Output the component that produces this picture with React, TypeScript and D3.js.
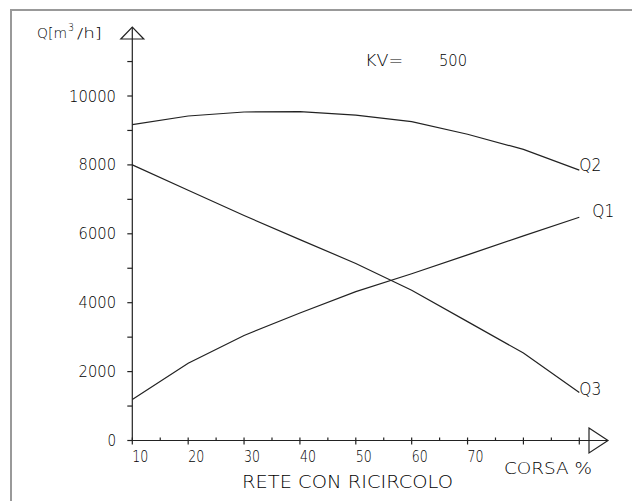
import React from 'react';
import * as d3 from 'd3';

// corsa % (x) and portate Q [m3/h]
const corsa = [10, 20, 30, 40, 50, 60, 70, 80, 90];
const q1 = [1190, 2240, 3050, 3700, 4320, 4840, 5390, 5940, 6480];
const q2 = [9170, 9420, 9535, 9545, 9445, 9255, 8890, 8450, 7850];
const q3 = [8000, 7265, 6530, 5830, 5140, 4360, 3450, 2540, 1390];
const seriesNames = ['Q1', 'Q2', 'Q3'];

const yTickLabels = [0, 2000, 4000, 6000, 8000, 10000];
const yMinorTicks = [1000, 3000, 5000, 7000, 9000, 11000];
const xTickLabels = [10, 20, 30, 40, 50, 60, 70];
const xMajorTicks = [10, 20, 30, 40, 50, 60, 70, 80, 90];
const xMinorTicks = [15, 25, 35, 45, 55, 65, 75, 85];

const kvLabel = 'KV=';
const kvValue = '500';
const xTitle = 'RETE CON RICIRCOLO';
const xUnit = 'CORSA %';

const font = '"DejaVu Sans", "Liberation Sans", sans-serif';
const ink = '#222';
const textInk = '#000';

export default function App() {
    const width = 632;
    const height = 501;

    const xScale = d3.scaleLinear().domain([10, 90]).range([132.3, 579.3]);
    const yScale = d3.scaleLinear().domain([0, 10000]).range([440.5, 96]);

    const x0 = xScale(10);
    const y0 = yScale(0);

    const line = d3.line<[number, number]>()
        .x(d => xScale(d[0]))
        .y(d => yScale(d[1]));

    const series = [q1, q2, q3].map((vals, i) => ({
        name: seriesNames[i],
        points: corsa.map((c, j) => [c, vals[j]] as [number, number]),
    }));

    // label positions relative to last point of each series
    const labelOffset: Record<string, [number, number]> = {
        Q1: [13, 0],
        Q2: [0, 1],
        Q3: [0, 2],
    };

    const fit = { lengthAdjust: 'spacingAndGlyphs' as const, fontWeight: 200, fill: textInk };

    return (
        <svg width={width} height={height}
            style={{ position: 'absolute', left: 0, top: 0, background: '#fff' }}
            fontFamily={font}>
            <rect x={11} y={10} width={700} height={600} fill="none" stroke="#999" strokeWidth={2} />

            {/* asse Y */}
            <line x1={x0} x2={x0} y1={y0} y2={27} stroke={ink} strokeWidth={1.2} />
            <path d={`M${x0 - 11.5},39 L${x0},27 L${x0 + 11.5},39 Z`} fill="none" stroke={ink} strokeWidth={1.2} />
            {yTickLabels.concat(yMinorTicks).map(v => (
                <line key={'yt' + v} x1={x0 - 5} x2={x0} y1={yScale(v)} y2={yScale(v)} stroke={ink} strokeWidth={1.2} />
            ))}
            {yTickLabels.map(v => {
                const w = String(v).length * 9.6;
                return (
                    <text key={'yl' + v} x={117 - w} y={yScale(v) + 5.5} fontSize={15}
                        textLength={w - 1} {...fit}>{v}</text>
                );
            })}
            <text x={37} y={38} fontSize={14} textLength={30} {...fit}>Q[m</text>
            <text x={68} y={31} fontSize={11} textLength={6} {...fit}>3</text>
            <text x={77} y={38} fontSize={14} textLength={25} {...fit}>/h]</text>

            {/* asse X */}
            <line x1={x0} x2={608} y1={y0} y2={y0} stroke={ink} strokeWidth={1.2} />
            <path d={`M589,${y0 - 12.5} L608,${y0} L589,${y0 + 12.5} Z`} fill="none" stroke={ink} strokeWidth={1.2} />
            {xMajorTicks.map(v => (
                <line key={'xt' + v} x1={xScale(v)} x2={xScale(v)} y1={y0 - 3} y2={y0 + 4} stroke={ink} strokeWidth={1.2} />
            ))}
            {xMinorTicks.map(v => (
                <line key={'xm' + v} x1={xScale(v)} x2={xScale(v)} y1={y0 - 3} y2={y0} stroke={ink} strokeWidth={1.2} />
            ))}
            {xTickLabels.map(v => (
                <text key={'xl' + v} x={xScale(v)} y={462} fontSize={15} textLength={16} {...fit}>{v}</text>
            ))}
            <text x={504} y={474} fontSize={16} textLength={88} {...fit}>{xUnit}</text>
            <text x={242} y={488} fontSize={17} textLength={211} {...fit}>{xTitle}</text>

            <text x={365} y={66} fontSize={16} textLength={38} {...fit}>{kvLabel}</text>
            <text x={439} y={66} fontSize={16} textLength={28} {...fit}>{kvValue}</text>

            {/* curve */}
            {series.map(s => {
                const last = s.points[s.points.length - 1];
                const [dx, dy] = labelOffset[s.name];
                return (
                    <g key={s.name}>
                        <path d={line(s.points) || ''} fill="none" stroke={ink} strokeWidth={1.2} />
                        <text x={xScale(last[0]) + dx} y={yScale(last[1]) + dy} fontSize={18}
                            textLength={22} {...fit}>{s.name}</text>
                    </g>
                );
            })}
        </svg>
    );
}
